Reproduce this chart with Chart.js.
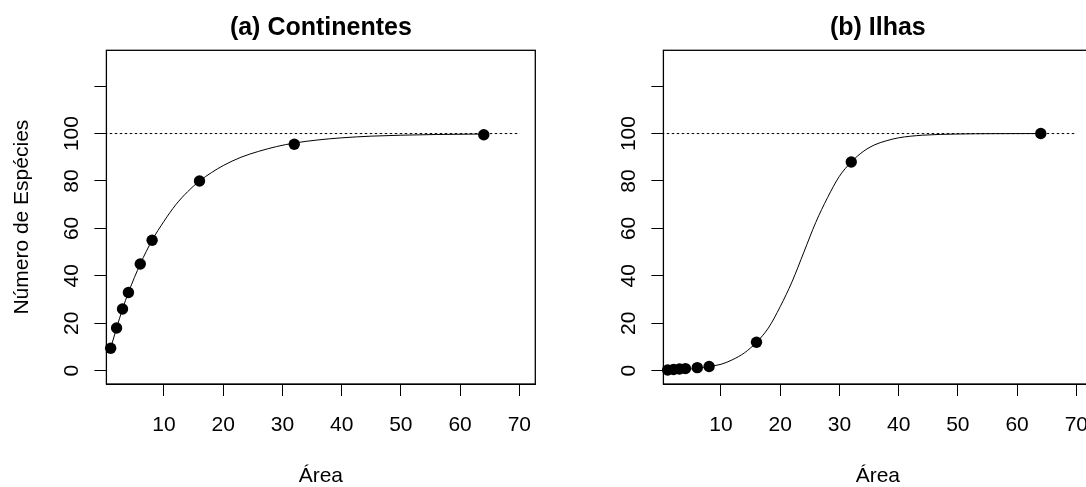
<!DOCTYPE html>
<html>
<head>
<meta charset="utf-8">
<script src="https://cdn.jsdelivr.net/npm/chart.js@4.4.0/dist/chart.umd.min.js"></script>
<style>
html, body { margin: 0; padding: 0; background: #fff; overflow: hidden; }
#wrap { position: relative; width: 1086px; height: 487px; overflow: hidden; }
canvas { position: absolute; top: 0; }
#painel-a { left: 0; }
#painel-b { left: 557px; }
</style>
</head>
<body>
<div id="wrap">
<canvas id="painel-a" width="557" height="487"></canvas>
<canvas id="painel-b" width="557" height="487"></canvas>
</div>
<script>
// pontos observados
var areas = [1, 2, 3, 4, 6, 8, 16, 32, 64];
var especiesContinentes = [9.5, 18, 26, 33, 45, 55, 80, 95.5, 99.5];
var especiesIlhas = [0.3, 0.5, 0.7, 0.9, 1.3, 1.8, 12, 88, 100];

// curvas
var curvaContX = [1, 2, 3, 4, 6, 8, 10, 12, 14, 16, 18, 20, 23, 26, 29, 32, 36, 40, 45, 50, 56, 64];
var curvaContY = [9.5, 18, 26, 33, 45, 55, 63, 70, 75.5, 80, 83.5, 86.5, 90, 92.5, 94.5, 96, 97.3, 98.2, 98.9, 99.3, 99.6, 99.8];
var curvaIlhasX = [1, 2, 4, 6, 8, 10, 12, 14, 16, 18, 20, 22, 24, 26, 28, 30, 32, 34, 36, 38, 40, 44, 50, 56, 64];
var curvaIlhasY = [0.3, 0.4, 0.6, 1.0, 1.8, 2.7, 4.7, 7.6, 12, 18, 27, 37.5, 50, 62.5, 73, 82, 88, 92.4, 95.3, 97, 98.2, 99.3, 99.8, 99.95, 100];

var xTicks = [10, 20, 30, 40, 50, 60, 70];
var yTicks = [0, 20, 40, 60, 80, 100, 120];
var yTickLabels = ["0", "20", "40", "60", "80", "100", ""];
var limiteX = [0, 70];
var limite = 100;

var fonte = "'Liberation Sans', Arial, sans-serif";

function pares(xs, ys) {
    return xs.map(function (x, i) {
        return { x: x, y: ys[i] };
    });
}

var moldura = {
    id: "moldura",
    afterDatasetsDraw: function (chart) {
        var a = chart.chartArea;
        var ctx = chart.ctx;
        ctx.save();
        ctx.strokeStyle = "#000";
        ctx.lineWidth = 1.3;
        ctx.strokeRect(a.left, a.top, a.right - a.left, a.bottom - a.top);
        ctx.restore();
    },
};

function painel(id, titulo, pontosY, curvaX, curvaY, mostrarTituloY) {
    return new Chart(document.getElementById(id).getContext("2d"), {
        type: "scatter",
        data: {
            datasets: [
                {
                    data: pares(areas, pontosY),
                    backgroundColor: "#000",
                    borderWidth: 0,
                    pointRadius: 5.7,
                    clip: false,
                },
                {
                    data: pares(curvaX, curvaY),
                    showLine: true,
                    borderColor: "#000",
                    borderWidth: 1,
                    pointRadius: 0,
                    cubicInterpolationMode: "monotone",
                },
                {
                    data: pares(limiteX, [limite, limite]),
                    showLine: true,
                    borderColor: "#000",
                    borderWidth: 1,
                    borderDash: [2.5, 2.5],
                    pointRadius: 0,
                },
            ],
        },
        options: {
            responsive: false,
            animation: false,
            devicePixelRatio: 1,
            events: [],
            layout: { padding: { left: 0, right: 21.7, top: 0, bottom: 0 } },
            plugins: {
                legend: false, // sem legenda
                tooltip: { enabled: false },
                title: {
                    display: true,
                    text: titulo,
                    fullSize: false,
                    color: "#000",
                    font: { family: fonte, size: 25, weight: "bold", lineHeight: 1.2 },
                    padding: { top: 13.4, bottom: 6.9 },
                },
            },
            scales: {
                x: {
                    type: "linear",
                    min: 0.28,
                    max: 72.7,
                    afterBuildTicks: function (s) {
                        s.ticks = xTicks.map(function (v) { return { value: v }; });
                    },
                    afterFit: function (s) { s.height = 103; },
                    grid: { drawOnChartArea: false, drawTicks: true, tickLength: 12, color: "#000", lineWidth: 1 },
                    border: { display: true, color: "#000", width: 1 },
                    ticks: {
                        autoSkip: false,
                        minRotation: 0,
                        maxRotation: 0,
                        padding: 16.4,
                        color: "#000",
                        font: { family: fonte, size: 21 },
                    },
                    title: {
                        display: true,
                        text: "Área",
                        color: "#000",
                        font: { family: fonte, size: 21, lineHeight: 1 },
                        padding: { top: 0, bottom: 0 },
                    },
                },
                y: {
                    type: "linear",
                    min: -5.6,
                    max: 135.1,
                    afterBuildTicks: function (s) {
                        s.ticks = yTicks.map(function (v) { return { value: v }; });
                    },
                    afterFit: function (s) { s.width = 106.4; },
                    grid: { drawOnChartArea: false, drawTicks: true, tickLength: 12, color: "#000", lineWidth: 1 },
                    border: { display: true, color: "#000", width: 1 },
                    ticks: {
                        autoSkip: false,
                        minRotation: 90,
                        maxRotation: 90,
                        crossAlign: "center",
                        padding: 4.7,
                        color: "#000",
                        font: { family: fonte, size: 21 },
                        callback: function (v, i) { return yTickLabels[i]; },
                    },
                    title: {
                        display: mostrarTituloY,
                        text: "Número de Espécies",
                        color: "#000",
                        font: { family: fonte, size: 21, lineHeight: 1 },
                        padding: { top: 12.2, bottom: 0 },
                    },
                },
            },
        },
        plugins: [moldura],
    });
}

var graficoA = painel("painel-a", "(a) Continentes", especiesContinentes, curvaContX, curvaContY, true);
var graficoB = painel("painel-b", "(b) Ilhas", especiesIlhas, curvaIlhasX, curvaIlhasY, false);
</script>
</body>
</html>
